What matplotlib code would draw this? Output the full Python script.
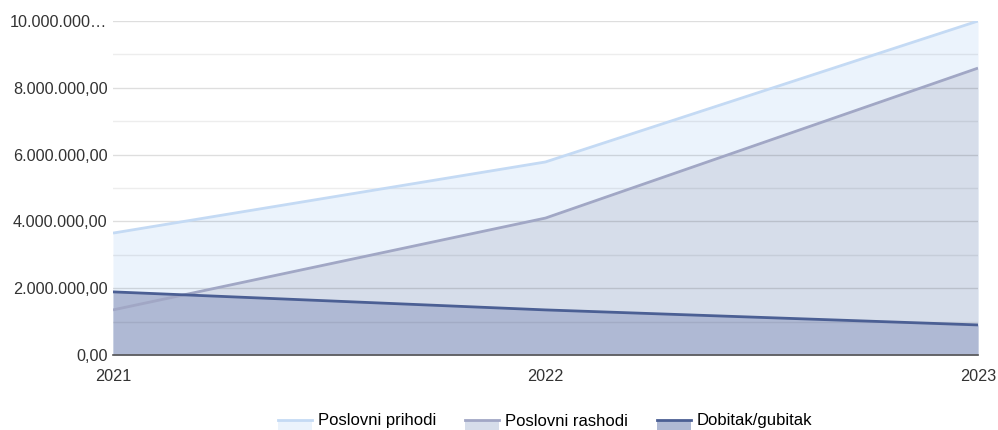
import numpy as np
import matplotlib.pyplot as plt
from matplotlib.ticker import FuncFormatter, MultipleLocator
from matplotlib.patches import Rectangle
from matplotlib.lines import Line2D
from matplotlib.legend_handler import HandlerBase

plt.rcParams['font.family'] = ['Liberation Sans', 'DejaVu Sans']

# Podaci po godinama
godine = ['2021', '2022', '2023']
prihodi = [3650000, 5780000, 10000000]
rashodi = [1350000, 4100000, 8590000]
dobitak = [1890000, 1350000, 900000]

nazivi = ['Poslovni prihodi', 'Poslovni rashodi', 'Dobitak/gubitak']
linije = ['#c4daf4', '#a1a7c5', '#4b5f94']
ispune = ['#ebf3fc', '#d6ddea', '#afb9d4']

x = np.arange(len(godine))

fig = plt.figure(figsize=(9.98, 4.30), dpi=100)
ax = fig.add_axes([113 / 998, 75 / 430, 865 / 998, 334 / 430])

for serija, lc, fc in zip([prihodi, rashodi, dobitak], linije, ispune):
    ax.fill_between(x, serija, 0, color=fc, lw=0, zorder=1)
    ax.plot(x, serija, color=lc, lw=2, zorder=3, solid_capstyle='butt')

ax.set_xlim(0, 2)
ax.set_ylim(0, 10000000)
ax.set_xticks(x)
ax.set_xticklabels(godine)


def fmt(v, pos):
    s = '{:,.2f}'.format(v).replace(',', ' ').replace('.', ',').replace(' ', '.')
    if v >= 10000000:
        return '10.000.000…'
    return s


ax.yaxis.set_major_locator(MultipleLocator(2000000))
ax.yaxis.set_minor_locator(MultipleLocator(1000000))
ax.yaxis.set_major_formatter(FuncFormatter(fmt))
ax.grid(which='major', axis='y', color='#000000', alpha=0.13, lw=1, zorder=2)
ax.grid(which='minor', axis='y', color='#000000', alpha=0.07, lw=1, zorder=2)
ax.set_axisbelow(False)

for s in ['top', 'right', 'left']:
    ax.spines[s].set_visible(False)
ax.spines['bottom'].set_color('#555555')
ax.spines['bottom'].set_linewidth(1.2)
ax.spines['bottom'].set_zorder(4)

ax.tick_params(axis='both', which='both', length=0, labelsize=11.7, colors='#333333')
ax.tick_params(axis='y', pad=4)
ax.tick_params(axis='x', pad=10)


# oznaka u legendi: linija na vrhu, ispod nje ispuna
class HandlerArea(HandlerBase):
    def create_artists(self, legend, orig_handle, xdescent, ydescent,
                       width, height, fontsize, trans):
        lc, fc = orig_handle
        rect = Rectangle((-xdescent, -ydescent - height * 0.6), width, height * 1.1,
                         facecolor=fc, edgecolor='none', transform=trans)
        line = Line2D([-xdescent, -xdescent + width],
                      [-ydescent + height * 0.5, -ydescent + height * 0.5],
                      color=lc, lw=2, transform=trans)
        return [rect, line]


handles = [(lc, fc) for lc, fc in zip(linije, ispune)]
fig.legend(handles, nazivi, loc='center', bbox_to_anchor=(545 / 998, 1 - 421 / 430),
           ncol=3, frameon=False, fontsize=12, handlelength=2.04, handleheight=0.7,
           columnspacing=1.74, handletextpad=0.36, borderpad=0, borderaxespad=0,
           handler_map={tuple: HandlerArea()})

fig.savefig('out.png', dpi=100)
